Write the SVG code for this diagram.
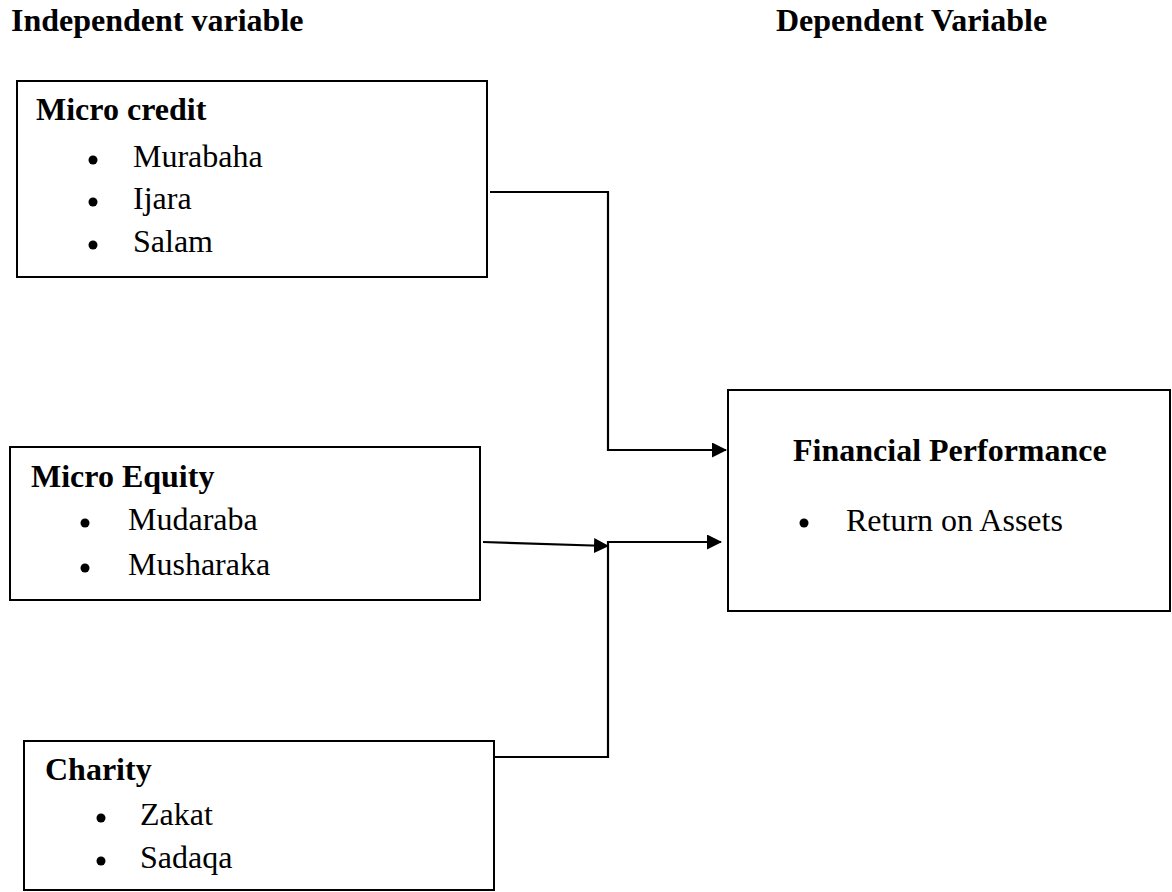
<svg xmlns="http://www.w3.org/2000/svg" width="1172" height="892" viewBox="0 0 1172 892">
<style>
text{font-family:"Liberation Serif","Times New Roman",serif;font-size:32px;fill:#000}
.h{font-weight:bold}
.box{fill:#fff;stroke:#000;stroke-width:2}
.dot{fill:#000}
.conn{fill:none;stroke:#000;stroke-width:2.2}
</style>
<defs>
<marker id="arr" markerUnits="userSpaceOnUse" markerWidth="16" markerHeight="16" refX="14" refY="7.5" orient="auto">
<path d="M0,0 L15,7.5 L0,15 z" fill="#000"/>
</marker>
</defs>
<rect width="1172" height="892" fill="#fff"/>
<text class="h" x="11" y="31">Independent variable</text>
<text class="h" x="776" y="31">Dependent Variable</text>

<g id="micro-credit">
<rect class="box" x="17" y="81" width="470" height="196"/>
<text class="h" x="36" y="120">Micro credit</text>
<circle class="dot" cx="93" cy="160" r="4.5"/>
<text x="133" y="167">Murabaha</text>
<circle class="dot" cx="93" cy="202" r="4.5"/>
<text x="133" y="209">Ijara</text>
<circle class="dot" cx="93" cy="245" r="4.5"/>
<text x="133" y="252">Salam</text>
</g>

<g id="micro-equity">
<rect class="box" x="10" y="447" width="470" height="153"/>
<text class="h" x="31" y="487">Micro Equity</text>
<circle class="dot" cx="85" cy="523" r="4.5"/>
<text x="128" y="530">Mudaraba</text>
<circle class="dot" cx="85" cy="568" r="4.5"/>
<text x="128" y="575">Musharaka</text>
</g>

<g id="charity">
<rect class="box" x="24" y="741" width="470" height="149"/>
<text class="h" x="45" y="780">Charity</text>
<circle class="dot" cx="101" cy="818" r="4.5"/>
<text x="140" y="825">Zakat</text>
<circle class="dot" cx="101" cy="861" r="4.5"/>
<text x="140" y="868">Sadaqa</text>
</g>

<g id="financial-performance">
<rect class="box" x="728" y="390" width="442" height="221"/>
<text class="h" x="793" y="461">Financial Performance</text>
<circle class="dot" cx="804" cy="523" r="4.5"/>
<text x="846" y="531">Return on Assets</text>
</g>

<g id="connectors">
<path class="conn" d="M490,192 H608 V450 H726" marker-end="url(#arr)"/>
<path class="conn" d="M483,542 L608,546" marker-end="url(#arr)"/>
<path class="conn" d="M495,757 H608 V542 H721" marker-end="url(#arr)"/>
</g>
</svg>
